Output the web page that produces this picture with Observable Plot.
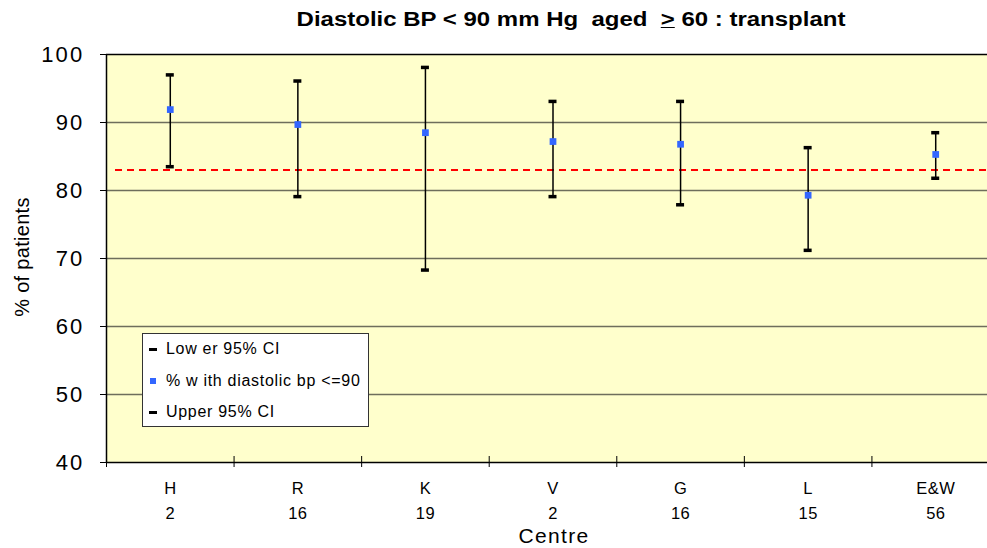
<!DOCTYPE html>
<html>
<head>
<meta charset="utf-8">
<script src="https://cdn.jsdelivr.net/npm/d3@7"></script>
<script src="https://cdn.jsdelivr.net/npm/@observablehq/plot@0.6"></script>
<style>
  html, body { margin: 0; padding: 0; background: #fff; overflow: hidden; }
  body { font-family: "Liberation Sans", Arial, sans-serif; }
  #wrap { position: relative; width: 987px; height: 548px; }
  #title { height: 40px; position: relative; }
  #title span { position: absolute; left: 571px; top: 8px; transform: translateX(-50%) scaleX(1.23);
    font-weight: bold; font-size: 19.5px; white-space: pre; color: #000; }
  #ylab { position: absolute; left: 22px; top: 257px; transform: translate(-50%, -50%) rotate(-90deg);
    font-size: 20px; white-space: nowrap; letter-spacing: 0.3px; }
  #xlab { position: absolute; left: 554px; top: 536px; transform: translate(-50%, -50%);
    font-size: 21px; letter-spacing: 1.3px; }
  #legend { position: absolute; left: 142px; top: 333px; width: 227px; height: 94px;
    background: #fff; border: 1px solid #333; box-sizing: border-box; font-size: 16px; }
  .row { position: absolute; left: 0; height: 20px; line-height: 20px; white-space: pre; }
  .mk { position: absolute; }
  .dash { left: 6px; width: 8px; height: 3px; background: #000; top: 9px; }
  .sq { left: 7px; width: 6px; height: 6px; background: #3366ff; top: 7px; }
  .txt { position: absolute; left: 23px; top: 0; letter-spacing: 0.7px; }
  svg { overflow: hidden; }
  svg g[aria-label="y-axis tick label"] text { letter-spacing: 2.2px; }
  svg g[aria-label="x-axis tick label"] text { letter-spacing: 0.4px; }
</style>
</head>
<body>
<div id="wrap">
  <div id="title"><span>Diastolic BP &lt; 90 mm Hg  aged  <u>&gt;</u> 60 : transplant</span></div>
  <div id="chart"></div>
  <div id="ylab">% of patients</div>
  <div id="xlab">Centre</div>
  <div id="legend">
    <div class="row" style="top:5px;"><div class="mk dash"></div><div class="txt">Low er 95% CI</div></div>
    <div class="row" style="top:37px;"><div class="mk sq"></div><div class="txt">% w ith diastolic bp &lt;=90</div></div>
    <div class="row" style="top:68px;"><div class="mk dash"></div><div class="txt">Upper 95% CI</div></div>
  </div>
</div>
<script>
const centres = ["H", "R", "K", "V", "G", "L", "E&W"];
const counts = [2, 16, 19, 2, 16, 15, 56];
const pct = [91.9, 89.7, 88.5, 87.2, 86.8, 79.3, 85.3];
const lower = [83.5, 79.1, 68.3, 79.1, 77.9, 71.2, 81.8];
const upper = [97.0, 96.1, 98.1, 93.1, 93.1, 86.3, 88.5];
const target = 83;
const yTicks = [40, 50, 60, 70, 80, 90, 100];

const rows = centres.map((c, i) => ({
  centre: c, n: counts[i], xi: i + 0.5, pct: pct[i], lower: lower[i], upper: upper[i]
}));
const boundaries = d3.range(0, centres.length + 1);
const centers = rows.map(d => d.xi);

const chart = Plot.plot({
  width: 987,
  height: 508,
  marginTop: 14,
  marginBottom: 86,
  marginLeft: 106,
  marginRight: 0,
  x: { domain: [0, centres.length], range: [106, 999] },
  y: { domain: [40, 100] },
  style: { fontFamily: "'Liberation Sans', Arial, sans-serif", background: "transparent", color: "#000" },
  marks: [
    Plot.frame({ fill: "#FFFFCC", stroke: null }),
    Plot.gridY([50, 60, 70, 80, 90], { stroke: "#6e6e5c", strokeOpacity: 1, strokeWidth: 1.5 }),
    Plot.ruleY([100], { stroke: "#000", strokeWidth: 1.5 }),
    Plot.ruleY([target], { stroke: "#ff0000", strokeWidth: 2, strokeDasharray: "7,5", insetLeft: 9 }),
    Plot.ruleX(rows, { x: "xi", y1: "lower", y2: "upper", stroke: "#000", strokeWidth: 1.5 }),
    Plot.ruleY(rows, { y: "lower", x1: "xi", x2: "xi", insetLeft: -4, insetRight: -4, stroke: "#000", strokeWidth: 3.5 }),
    Plot.ruleY(rows, { y: "upper", x1: "xi", x2: "xi", insetLeft: -4, insetRight: -4, stroke: "#000", strokeWidth: 3.5 }),
    Plot.dot(rows, { x: "xi", y: "pct", symbol: "square", r: 3.8, fill: "#3366ff", stroke: null }),
    Plot.ruleX([0], { stroke: "#000", strokeWidth: 1.5 }),
    Plot.ruleY([40], { stroke: "#000", strokeWidth: 1.5 }),
    Plot.ruleX(boundaries, { y1: 40, y2: 40, insetTop: -6, insetBottom: -5, stroke: "#000", strokeWidth: 1 }),
    Plot.axisY(yTicks, { tickSize: 6, tickPadding: 16, fontSize: 22, label: null, strokeWidth: 1 }),
    Plot.axisX(centers, {
      tickSize: 0, tickPadding: 14, fontSize: 16.5, lineHeight: 1.5, label: null,
      tickFormat: d => centres[Math.floor(d)] + "\n" + counts[Math.floor(d)]
    })
  ]
});
document.getElementById("chart").appendChild(chart);
</script>
</body>
</html>
